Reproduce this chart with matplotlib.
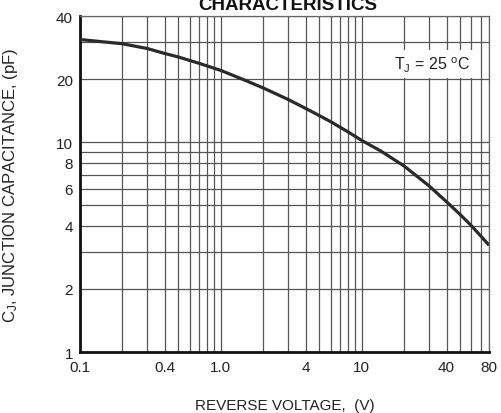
import numpy as np
import matplotlib
matplotlib.use('Agg')
import matplotlib.pyplot as plt

plt.rcParams['font.family'] = ['Liberation Sans', 'DejaVu Sans']
plt.rcParams['mathtext.default'] = 'regular'

# curve
voltage = [0.1, 0.2, 0.3, 0.4, 0.5, 0.7, 1.0, 1.5, 2.0, 3.0, 4.0, 5.0, 6.0, 8.0, 10.0, 13.6, 20.0, 30.0, 40.0, 50.0, 60.0, 70.0, 80.0]
capacitance = [30.9, 29.5, 28.0, 26.5, 25.5, 23.8, 22.0, 19.7, 18.15, 16.0, 14.5, 13.4, 12.55, 11.2, 10.2, 9.1, 7.7, 6.2, 5.2, 4.52, 4.0, 3.57, 3.23]

x_grid = [0.1, 0.2, 0.3, 0.4, 0.5, 0.6, 0.7, 0.8, 0.9, 1, 2, 3, 4, 5, 6, 7, 8, 9, 10, 20, 30, 40, 50, 60, 70, 80]
x_labels = {0.1: '0.1', 0.4: '0.4', 1: '1.0', 4: '4', 10: '10', 40: '40', 80: '80'}
y_grid = [1, 2, 3, 4, 5, 6, 7, 8, 9, 10, 20, 30, 40]
y_labels = {1: '1', 2: '2', 4: '4', 6: '6', 8: '8', 10: '10', 20: '20', 40: '40'}

fig = plt.figure(figsize=(5.01, 4.14), dpi=100)
ax = fig.add_axes([0.1597, 0.1473, 0.8164, 0.8116])

ax.set_xscale('log')
ax.set_yscale('log')
ax.set_xlim(0.1, 80)
ax.set_ylim(1, 40)

ax.set_xticks(x_grid)
ax.set_xticklabels([x_labels.get(v, '') for v in x_grid])
ax.set_yticks(y_grid)
ax.set_yticklabels([y_labels.get(v, '') for v in y_grid])
ax.minorticks_off()
ax.tick_params(axis='x', length=0, pad=6, labelsize=11, colors='#222222')
ax.tick_params(axis='y', length=0, pad=5, labelsize=11, colors='#222222')
ax.grid(True, which='major', color='#555555', linewidth=0.9)

ax.plot(voltage, capacitance, color='#2a2a2a', linewidth=2.3,
        solid_joinstyle='round', solid_capstyle='butt', zorder=3)

for side in ['left', 'bottom']:
    ax.spines[side].set_linewidth(2.0)
    ax.spines[side].set_color('#111111')
for side in ['top', 'right']:
    ax.spines[side].set_linewidth(0.9)
    ax.spines[side].set_color('#666666')

ax.text(0.954, 0.857, r'T$_J$ = 25 $^o$C', transform=ax.transAxes, ha='right', va='center',
        fontsize=11.5, color='#222222', zorder=4,
        bbox=dict(facecolor='white', edgecolor='none', pad=3))

ax.set_ylabel(r'C$_J$, JUNCTION CAPACITANCE, (pF)', fontsize=12, color='#222222')
ax.yaxis.set_label_coords(-0.147, 0.5)
ax.set_xlabel('REVERSE VOLTAGE,  (V)', fontsize=11, color='#222222')
ax.xaxis.set_label_coords(0.5, -0.137)

# title sits partly above the top edge, as in the source
fig.text(0.575, 0.975, 'CHARACTERISTICS', ha='center', va='baseline', fontsize=13.5,
         fontweight='bold', color='#111111')

fig.savefig('out.png', dpi=100)
